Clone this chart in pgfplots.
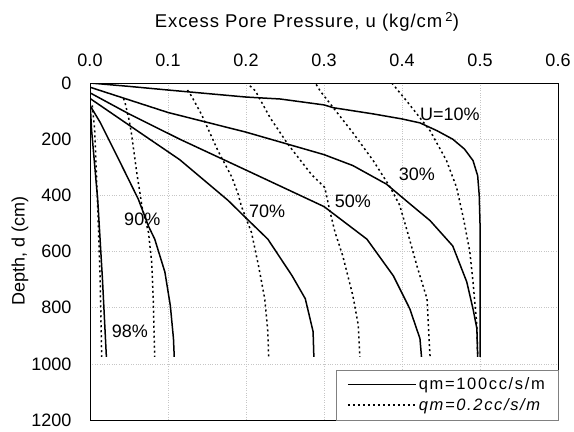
\documentclass[border=0pt]{standalone}
\usepackage{pgfplots}
\pgfplotsset{compat=1.18}
\usepackage{fontspec}
\setmainfont{Liberation Sans}
\usetikzlibrary{calc}
\begin{document}
\begin{tikzpicture}
\begin{axis}[
  scale only axis,
  width=468pt, height=337pt,
  xmin=0, xmax=0.6, ymin=0, ymax=1200,
  y dir=reverse,
  xtick={0,0.1,...,0.6},
  ytick={0,200,...,1200},
  xticklabel pos=top,
  xticklabel style={/pgf/number format/.cd,fixed,fixed zerofill,precision=1,/tikz/.cd, yshift=13pt},
  yticklabel style={/pgf/number format/.cd,set thousands separator={},/tikz/.cd, xshift=-15pt},
  /pgf/number format/assume math mode=true,
  tick label style={font=\fontsize{18}{20}\selectfont},
  major tick length=0pt,
  grid=major,
  major grid style={gray!45, dotted, line width=0.4pt},
  axis line style={line width=0.6pt},
  legend style={at={(1,0)}, anchor=south east, draw=gray, line width=0.4pt,
    font=\fontsize{16.5}{19}\selectfont\addfontfeature{LetterSpace=10}, inner xsep=11pt, inner ysep=6pt, row sep=3pt,
    cells={anchor=west}},
  legend cell align=left,
  legend image code/.code={\draw[#1] (0cm,0cm) -- (2.4cm,0cm);},
  every axis plot/.append style={line width=1.5pt},
]
% solid: qm=100cc/s/m
\addplot[black] coordinates {(0.0,0) (0.05,12) (0.1,25) (0.2,50) (0.244,57) (0.3,78) (0.312,88) (0.363,110) (0.4,128) (0.423,142) (0.445,170) (0.465,200) (0.48,235) (0.491,276) (0.497,330) (0.499,400) (0.5,500) (0.5,975)};
\addlegendentry{qm=100cc/s/m}
\addplot[black, dash pattern=on 2pt off 3pt] coordinates {(0.387,0) (0.408,71) (0.436,170) (0.457,276) (0.470,372) (0.479,485) (0.487,602) (0.491,708) (0.496,863) (0.497,975)};
\addlegendentry{\itshape qm=0.2cc/s/m}
\addplot[black] coordinates {(0.0,15) (0.05,60) (0.1,105) (0.2,175) (0.3,255) (0.337,294) (0.38,360) (0.41,430) (0.436,490) (0.465,580) (0.483,708) (0.491,804) (0.496,874) (0.497,975)};
\addplot[black] coordinates {(0.0,35) (0.05,110) (0.115,200) (0.2,310) (0.3,440) (0.355,556) (0.389,687) (0.41,804) (0.423,910) (0.425,975)};
\addplot[black] coordinates {(0.0,55) (0.05,150) (0.115,273) (0.177,418) (0.199,478) (0.228,556) (0.259,686) (0.276,768) (0.286,885) (0.287,975)};
\addplot[black] coordinates {(0.0,80) (0.013,140) (0.04,290) (0.062,414) (0.075,510) (0.083,556) (0.096,673) (0.103,793) (0.107,910) (0.108,975)};
\addplot[black] coordinates {(0.0,60) (0.002,166) (0.01,420) (0.016,700) (0.021,975)};
% dotted: qm=0.2cc/s/m
\addplot[black, dash pattern=on 2pt off 3pt] coordinates {(0.290,5) (0.295,28) (0.337,177) (0.363,276) (0.385,372) (0.397,435) (0.408,540) (0.419,650) (0.432,768) (0.436,975)};
\addplot[black, dash pattern=on 2pt off 3pt] coordinates {(0.205,10) (0.212,28) (0.231,124) (0.254,219) (0.284,326) (0.301,372) (0.307,450) (0.314,530) (0.324,615) (0.337,757) (0.344,863) (0.346,975)};
\addplot[black, dash pattern=on 2pt off 3pt] coordinates {(0.125,25) (0.13,46) (0.143,112) (0.164,241) (0.182,336) (0.19,396) (0.194,438) (0.207,532) (0.216,650) (0.224,768) (0.228,885) (0.229,975)};
\addplot[black, dash pattern=on 2pt off 3pt] coordinates {(0.043,55) (0.045,71) (0.05,130) (0.053,177) (0.06,320) (0.067,445) (0.075,532) (0.079,637) (0.081,760) (0.082,870) (0.083,975)};
\addplot[black, dash pattern=on 2pt off 3pt] coordinates {(0.003,80) (0.006,166) (0.01,450) (0.013,700) (0.015,975)};
% curve labels
\begin{scope}[every node/.style={font=\fontsize{18}{20}\selectfont, inner sep=0.5pt}]
\node at (axis cs:0.4615,110) {U=10\%};
\node at (axis cs:0.419,326) {30\%};
\node at (axis cs:0.337,421) {50\%};
\node at (axis cs:0.227,457) {70\%};
\node at (axis cs:0.067,485) {90\%};
\node at (axis cs:0.051,885) {98\%};
\end{scope}
\end{axis}
\node[font=\fontsize{18.5}{20}\selectfont\addfontfeature{LetterSpace=5}] at ($(current axis.north west)+(217pt,61pt)$) {Excess Pore Pressure, u (kg/cm\,\textsuperscript{2})};
\node[font=\fontsize{18}{20}\selectfont, rotate=90] at ($(current axis.north west)+(-70pt,-168pt)$) {Depth, d (cm)};
\path ($(current axis.south west)+(-90pt,-11pt)$) rectangle ($(current axis.north east)+(16pt,83pt)$);
\end{tikzpicture}
\end{document}
